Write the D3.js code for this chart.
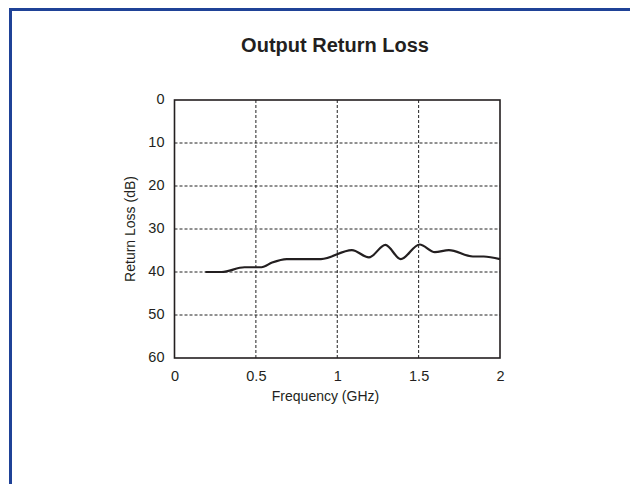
<!DOCTYPE html>
<html><head><meta charset="utf-8">
<script src="https://cdn.jsdelivr.net/npm/d3@7"></script>
<style>
html,body{margin:0;padding:0;background:#fff;}
svg{display:block;}
text{font-family:"Liberation Sans",Arial,Helvetica,sans-serif;fill:#231f20;}
</style></head>
<body>
<script>
const title = "Output Return Loss";
const xLabel = "Frequency (GHz)";
const yLabel = "Return Loss (dB)";
const xTicks = [0, 0.5, 1, 1.5, 2];
const xTickLabels = ["0", "0.5", "1", "1.5", "2"];
const yTicks = [0, 10, 20, 30, 40, 50, 60];
const yTickLabels = ["0", "10", "20", "30", "40", "50", "60"];
const freq = [0.19, 0.29, 0.43, 0.535, 0.6, 0.69, 0.9, 1.09, 1.195, 1.296, 1.39, 1.506, 1.6, 1.686, 1.833, 1.9, 2.0];
const returnLoss = [40, 40, 38.9, 38.9, 37.8, 37, 37, 34.9, 36.6, 33.7, 37, 33.6, 35.4, 34.9, 36.4, 36.4, 37];

const W = 630, H = 484;
const svg = d3.select("body").append("svg").attr("width", W).attr("height", H);

// blue frame
svg.append("rect").attr("x", 10.5).attr("y", 9.5).attr("width", 640).attr("height", 500)
  .attr("fill", "none").attr("stroke", "#1f4297").attr("stroke-width", 3);

const m = {left: 174.5, right: 500, top: 100, bottom: 358};
const x = d3.scaleLinear().domain([0, 2]).range([m.left, m.right]);
const y = d3.scaleLinear().domain([0, 60]).range([m.top, m.bottom]);

svg.append("text").attr("x", 335).attr("y", 52).attr("text-anchor", "middle")
  .attr("font-size", 20).attr("font-weight", "bold").text(title);

// grid
const gx = svg.append("g");
gx.selectAll("line.v").data(xTicks.filter(d => d > 0 && d < 2)).enter().append("line")
  .attr("x1", d => x(d)).attr("x2", d => x(d)).attr("y1", m.top).attr("y2", m.bottom)
  .attr("stroke", "#222").attr("stroke-width", 1).attr("stroke-dasharray", "3,2");
gx.selectAll("line.h").data(yTicks.filter(d => d > 0 && d < 60)).enter().append("line")
  .attr("y1", d => y(d)).attr("y2", d => y(d)).attr("x1", m.left).attr("x2", m.right)
  .attr("stroke", "#222").attr("stroke-width", 1).attr("stroke-dasharray", "3,2");

// axes via d3
const xAxis = d3.axisBottom(x).tickValues(xTicks).tickFormat((d, i) => xTickLabels[i]).tickSize(0).tickPadding(13);
const yAxis = d3.axisLeft(y).tickValues(yTicks).tickFormat((d, i) => yTickLabels[i]).tickSize(0).tickPadding(10);
const ga = svg.append("g").attr("transform", `translate(0,${m.bottom})`).call(xAxis);
const gy = svg.append("g").attr("transform", `translate(${m.left},0)`).call(yAxis);
[ga, gy].forEach(g => {
  g.select(".domain").remove();
  g.selectAll("text").attr("font-size", 14.5).attr("fill", "#231f20")
    .style("font-family", '"Liberation Sans",Arial,sans-serif');
});
gy.selectAll("text").attr("dy", "0.25em");

// plot box
svg.append("rect").attr("x", m.left).attr("y", m.top).attr("width", m.right - m.left).attr("height", m.bottom - m.top)
  .attr("fill", "none").attr("stroke", "#231f20").attr("stroke-width", 1.6);

// data line
const line = d3.line().x((d, i) => x(freq[i])).y((d) => y(d)).curve(d3.curveMonotoneX);
svg.append("path").datum(returnLoss).attr("d", line)
  .attr("fill", "none").attr("stroke", "#231f20").attr("stroke-width", 2.2).attr("stroke-linejoin", "round");

// axis titles
svg.append("text").attr("x", 325.5).attr("y", 401).attr("text-anchor", "middle").attr("font-size", 14).text(xLabel);
svg.append("text").attr("transform", `translate(135,${(m.top + m.bottom) / 2}) rotate(-90)`)
  .attr("text-anchor", "middle").attr("font-size", 14).text(yLabel);
</script>
</body></html>
